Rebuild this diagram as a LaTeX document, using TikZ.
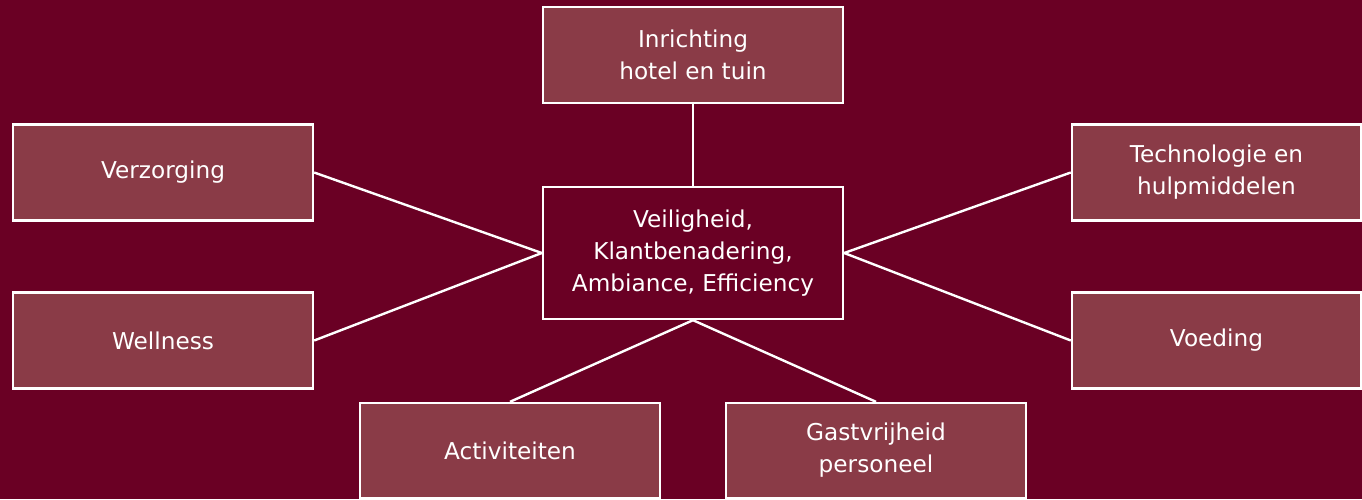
\documentclass[tikz,border=0pt]{standalone}
\usepackage{fontspec}
\setmainfont{DejaVu Sans}
\usepackage{tikz}
\definecolor{wijnrood}{RGB}{106,0,36}
\definecolor{roze}{RGB}{138,59,71}

\begin{document}
\begin{tikzpicture}[x=0.5pt, y=-0.5pt,
    box/.style={draw=white, line width=1.2pt, fill=roze, text=white, align=center,
        minimum width=150pt, minimum height=48pt, inner sep=0pt,
        font=\fontsize{11.6}{16}\selectfont},
    lijn/.style={white, line width=1.2pt}]
    \fill[wijnrood] (0,0) rectangle (1362,499);
    \useasboundingbox (0,0) rectangle (1362,499);
    \node[box] (inrichting) at (693,55) {Inrichting\\hotel en tuin};
    \node[box, fill=wijnrood, minimum height=66pt] (kern) at (693,253) {Veiligheid,\\Klantbenadering,\\Ambiance, Efficiency};
    \node[box] (verzorging) at (163,172.5) {Verzorging};
    \node[box] (wellness) at (163,340.5) {Wellness};
    \node[box, minimum width=144.5pt] (techniek) at (1216.5,172.5) {Technologie en\\hulpmiddelen};
    \node[box, minimum width=144.5pt] (voeding) at (1216.5,340.5) {Voeding};
    \node[box, minimum height=47.5pt] (activiteiten) at (510,450.5) {Activiteiten};
    \node[box, minimum height=47.5pt] (gastvrij) at (876,450.5) {Gastvrijheid\\personeel};
    \draw[lijn] (inrichting) -- (kern);
    \draw[lijn] (verzorging.east) -- (kern.west);
    \draw[lijn] (wellness.east) -- (kern.west);
    \draw[lijn] (techniek.west) -- (kern.east);
    \draw[lijn] (voeding.west) -- (kern.east);
    \draw[lijn] (activiteiten.north) -- (kern.south);
    \draw[lijn] (gastvrij.north) -- (kern.south);
\end{tikzpicture}
\end{document}
